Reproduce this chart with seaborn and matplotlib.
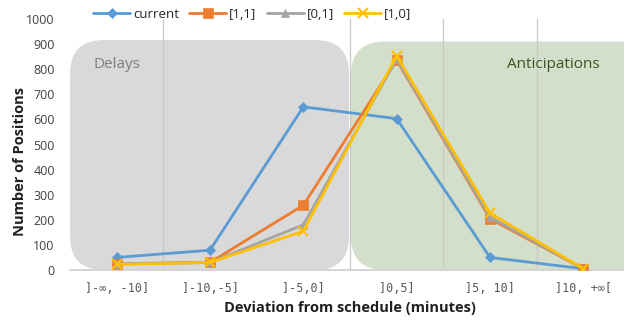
import matplotlib
matplotlib.use("Agg")
import matplotlib.pyplot as plt
import matplotlib.patches as mpatches
from matplotlib.lines import Line2D
import seaborn as sns
import pandas as pd
import numpy as np

categories = ["]-\u221e, -10]", "]-10,-5]", "]-5,0]", "]0,5]", "]5, 10]", "]10, +\u221e["]
series_names = ["current", "[1,1]", "[0,1]", "[1,0]"]
current = [50, 79, 650, 603, 50, 5]
s11 = [25, 30, 258, 836, 204, 5]
s01 = [25, 30, 180, 840, 211, 5]
s10 = [22, 30, 155, 853, 227, 5]
y_ticks = [0, 100, 200, 300, 400, 500, 600, 700, 800, 900, 1000]
grid_bounds = [0.5, 2.5, 3.5, 4.5]

colors = ["#5b9bd5", "#ed7d31", "#a5a5a5", "#ffc000"]
markers = ["D", "s", "^", "x"]
msizes = [5, 7, 6, 7]

sns.set_theme(style="white")
plt.rcParams['font.family'] = ['Open Sans', 'DejaVu Sans']

fig = plt.figure(figsize=(6.24, 3.28), dpi=100)
ax = fig.add_axes([70/624, 1-270/328, 560/624, 251/328])

x = np.arange(len(categories))
ax.set_xlim(-0.5, 5.5)
ax.set_ylim(0, 1000)

# background regions (rounded boxes)
fig.canvas.draw()
px_x = ax.transData.transform((1, 0))[0] - ax.transData.transform((0, 0))[0]
px_y = ax.transData.transform((0, 1))[1] - ax.transData.transform((0, 0))[1]
aspect = px_x / px_y
r = 0.36
gray = mpatches.FancyBboxPatch((-0.5, 0), 2.99, 916,
                               boxstyle=f"round,pad=0,rounding_size={r}",
                               mutation_aspect=aspect, fc="#d9d9d9", ec="none",
                               zorder=0.5, clip_on=False)
green = mpatches.FancyBboxPatch((2.51, 0), 3.4, 910,
                                boxstyle=f"round,pad=0,rounding_size={r}",
                                mutation_aspect=aspect, fc="#d3dfca", ec="none",
                                zorder=0.5, clip_on=False)
ax.add_patch(gray)
ax.add_patch(green)

# vertical gridlines at category boundaries
for b in grid_bounds:
    ax.axvline(b, color="#c8c8c8", lw=0.9, zorder=0.6)

data = [current, s11, s01, s10]
frames = []
for name, vals in zip(series_names, data):
    frames.append(pd.DataFrame({"x": x, "y": vals, "series": name}))
df = pd.concat(frames, ignore_index=True)

for name, c, m, ms in zip(series_names, colors, markers, msizes):
    sub = df[df["series"] == name]
    sns.lineplot(data=sub, x="x", y="y", ax=ax, color=c, marker=m,
                 markersize=ms, lw=2, sort=False,
                 markeredgecolor=c, markeredgewidth=1.5 if m == "x" else 0.5,
                 zorder=3, legend=False)

ax.text(-0.25, 820, "Delays", color="#7f7f7f", fontsize=11,
        va="center", ha="left", zorder=2)
ax.text(4.18, 820, "Anticipations", color="#3b5323", fontsize=11,
        va="center", ha="left", zorder=2)

ax.set_xticks(x)
ax.set_xticklabels(categories, fontsize=8.5, color="#595959", family="DejaVu Sans Mono")
ax.set_yticks(y_ticks)
ax.set_yticklabels([str(v) for v in y_ticks], fontsize=9, color="#404040")
ax.tick_params(axis="y", length=0, pad=11)
ax.tick_params(axis="x", length=0, pad=9)
for s in ["top", "right", "left"]:
    ax.spines[s].set_visible(False)
ax.spines["bottom"].set_color("#d0d0d0")
ax.spines["bottom"].set_zorder(1)
ax.set_xlabel("Deviation from schedule (minutes)", fontsize=10.5, fontweight="bold",
              color="#202020", va="center")
ax.set_ylabel("Number of Positions", fontsize=10.5, fontweight="bold", color="#202020",
              va="center")
ax.xaxis.set_label_coords((350 - 70) / 560, -(308 - 270) / 251)
ax.yaxis.set_label_coords(-50 / 560, (270 - 162) / 251)

handles, labels = [], []
for name, c, m, ms in zip(series_names, colors, markers, msizes):
    handles.append(Line2D([0], [0], color=c, lw=2, marker=m, markersize=ms,
                          markeredgecolor=c, markeredgewidth=1.5 if m == "x" else 0.5))
    labels.append(name)
fig.legend(handles, labels, loc="center left", bbox_to_anchor=(88/624, 1-14/328),
           ncol=4, frameon=False, fontsize=9.5, handlelength=2.8, columnspacing=0.8,
           handletextpad=0.2, borderaxespad=0)

fig.savefig("out.png", dpi=100)
